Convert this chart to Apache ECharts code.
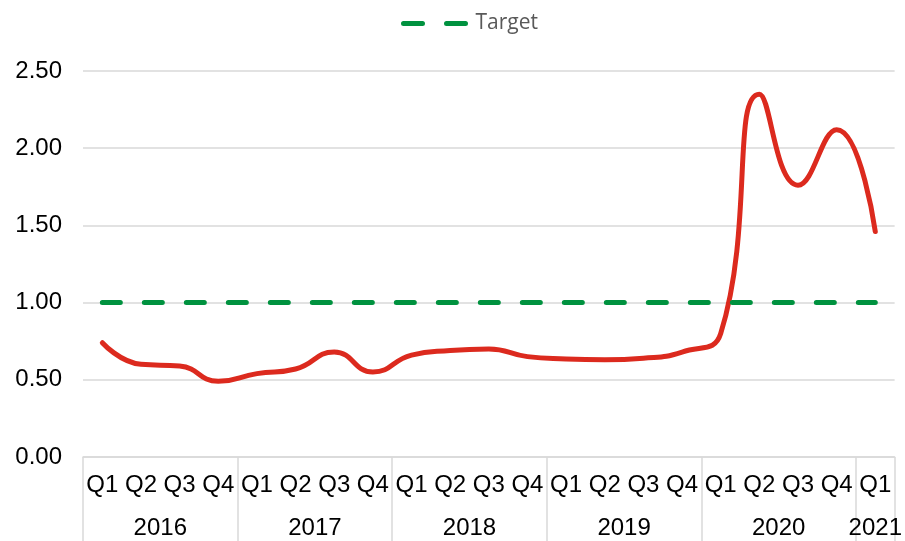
<!DOCTYPE html>
<html>
<head>
<meta charset="utf-8">
<script src="https://cdn.jsdelivr.net/npm/echarts@6/dist/echarts.min.js"></script>
<style>
  html, body { margin: 0; padding: 0; background: #fff; }
  #main { width: 905px; height: 541px; }
</style>
</head>
<body>
<div id="main"></div>
<script>
var quarters = ['Q1','Q2','Q3','Q4','Q1','Q2','Q3','Q4','Q1','Q2','Q3','Q4','Q1','Q2','Q3','Q4','Q1','Q2','Q3','Q4','Q1'];
var years = ['2016','2017','2018','2019','2020','2021'];
var yearSize = [4, 4, 4, 4, 4, 1];
var actual = [0.74, 0.60, 0.59, 0.49, 0.54, 0.57, 0.68, 0.55, 0.66, 0.69, 0.70, 0.65, 0.635, 0.63, 0.64, 0.68, 0.80, 2.35, 1.76, 2.12, 1.46];
var target = [1,1,1,1,1,1,1,1,1,1,1,1,1,1,1,1,1,1,1,1,1];

// group boundaries and centres for the year row
var bounds = [0], centres = [], yearAt = {};
var acc = 0;
for (var i = 0; i < yearSize.length; i++) {
    var c = acc + yearSize[i] / 2;
    centres.push(c);
    yearAt[c] = years[i];
    acc += yearSize[i];
    bounds.push(acc);
}

var myChart = echarts.init(document.getElementById('main'));
var font = 'Liberation Sans, Arial, sans-serif';
var option = {
    animation: false,
    legend: {
        top: 8,
        left: 396,
        data: ['Target'],
        itemWidth: 67,
        itemHeight: 6,
        itemGap: 10,
        itemStyle: { opacity: 0 },
        lineStyle: { width: 5, type: [19, 24], cap: 'round' },
        textStyle: { color: '#595959', fontSize: 21, fontFamily: 'Open Sans, sans-serif' }
    },
    grid: { left: 83, right: 3, top: 71, bottom: 84, containLabel: false },
    xAxis: [
        {
            type: 'category',
            data: quarters,
            boundaryGap: true,
            position: 'bottom',
            axisLine: { show: true, lineStyle: { color: '#d9d9d9', width: 1.5 } },
            axisTick: { show: false },
            axisLabel: { interval: 0, margin: 16, color: '#000', fontSize: 24, fontFamily: font },
            splitLine: { show: false }
        },
        {
            type: 'value',
            min: 0,
            max: quarters.length,
            position: 'bottom',
            axisLine: { show: false },
            axisTick: {
                show: true,
                customValues: bounds,
                length: 84,
                lineStyle: { color: '#d9d9d9', width: 1.5 }
            },
            axisLabel: {
                customValues: centres,
                margin: 59,
                color: '#000',
                fontSize: 24,
                fontFamily: font,
                formatter: function (v) { return yearAt[v] || ''; }
            },
            splitLine: { show: false }
        }
    ],
    yAxis: {
        type: 'value',
        min: 0,
        max: 2.5,
        interval: 0.5,
        axisLine: { show: false },
        axisTick: { show: false },
        axisLabel: {
            margin: 21,
            color: '#000',
            fontSize: 24,
            fontFamily: font,
            formatter: function (v) { return v.toFixed(2); }
        },
        splitLine: { lineStyle: { color: '#d9d9d9', width: 1.5 } }
    },
    series: [
        {
            name: 'Actual',
            type: 'line',
            data: actual,
            smooth: 0.5,
            symbol: 'none',
            lineStyle: { color: '#dc2a1e', width: 5, cap: 'round' },
            itemStyle: { color: '#dc2a1e' }
        },
        {
            name: 'Target',
            type: 'line',
            data: target,
            symbol: 'none',
            lineStyle: { color: '#00923f', width: 5, type: [18, 24], cap: 'round' },
            itemStyle: { color: '#00923f' }
        }
    ]
};
myChart.setOption(option);
</script>
</body>
</html>
